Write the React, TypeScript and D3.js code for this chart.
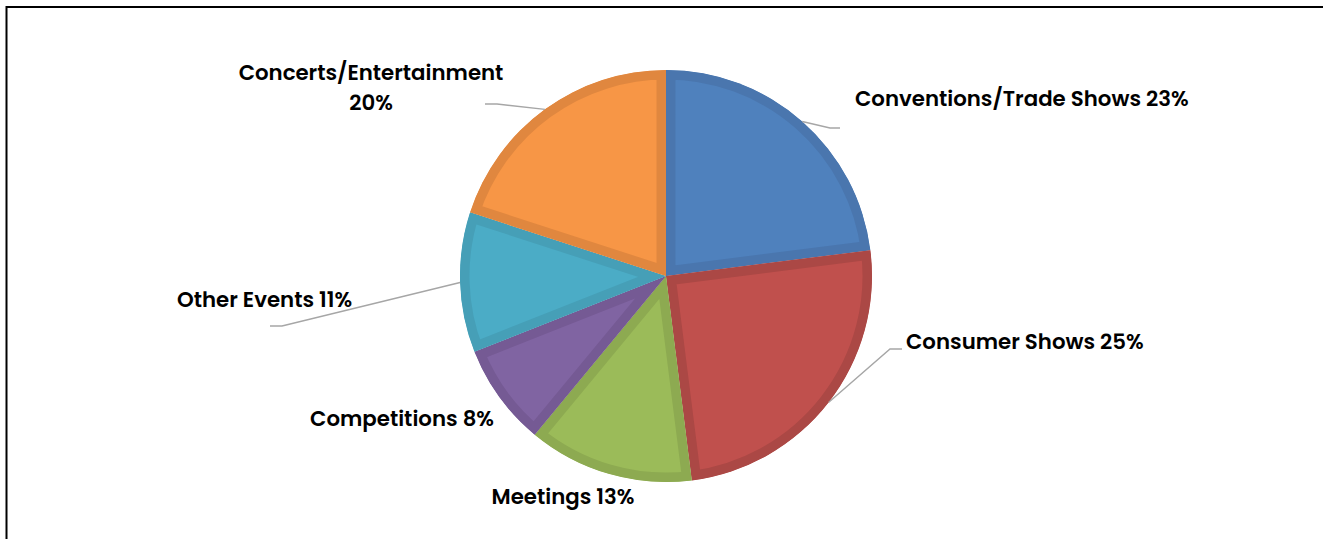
import React from "react";
import * as d3 from "d3";

const categories = [
  "Conventions/Trade Shows",
  "Consumer Shows",
  "Meetings",
  "Competitions",
  "Other Events",
  "Concerts/Entertainment",
];
const values = [23, 25, 13, 8, 11, 20];

const fillColors = ["#4F81BD", "#C0504D", "#9BBB59", "#8064A2", "#4BACC6", "#F79646"];
const borderColors = ["#4A76AE", "#AB4845", "#8DAA51", "#755A94", "#469FB7", "#E0873F"];

const W = 1323;
const H = 539;
const CX = 666;
const CY = 276;
const R = 206;

// label layout relative to pie centre: text anchor, lines, leader elbows
type LabelLayout = {
  tx: number;
  ty: number;
  anchor: "start" | "middle" | "end";
  lines: number;
  leader: [number, number][] | null;
};
const labelLayout: LabelLayout[] = [
  { tx: 189, ty: -170, anchor: "start", lines: 1, leader: [[164, -148], [174, -148]] },
  { tx: 240, ty: 73, anchor: "start", lines: 1, leader: [[224, 73], [236, 73]] },
  { tx: -103, ty: 228, anchor: "middle", lines: 1, leader: null },
  { tx: -172, ty: 150, anchor: "end", lines: 1, leader: null },
  { tx: -489, ty: 31, anchor: "start", lines: 1, leader: [[-384, 50], [-396, 50]] },
  { tx: -295, ty: -196, anchor: "middle", lines: 2, leader: [[-169, -172], [-181, -172]] },
];

export default function App() {
  const pie = d3
    .pie<number>()
    .sort(null)
    .value((d) => d)
    .startAngle(0)
    .endAngle(2 * Math.PI);
  const arcs = pie(values);
  const arc = d3.arc<d3.PieArcDatum<number>>().innerRadius(0).outerRadius(R);
  const total = d3.sum(values);

  const textProps = {
    fontSize: 21.3,
    fontWeight: 600,
    fill: "#000",
  };

  return (
    <svg
      width={W}
      height={H}
      style={{ position: "absolute", left: 0, top: 0, background: "#fff" }}
      fontFamily="Poppins, 'Open Sans', sans-serif"
    >
      <rect x={6.5} y={7} width={1500} height={700} fill="#fff" stroke="#000" strokeWidth={2} />
      <defs>
        {arcs.map((a, i) => (
          <clipPath id={`clip${i}`} key={i}>
            <path d={arc(a) || ""} />
          </clipPath>
        ))}
      </defs>
      <g transform={`translate(${CX},${CY})`}>
        {arcs.map((a, i) => (
          <path
            key={i}
            d={arc(a) || ""}
            fill={fillColors[i]}
            stroke={borderColors[i]}
            strokeWidth={19}
            strokeLinejoin="miter"
            clipPath={`url(#clip${i})`}
          />
        ))}
        {arcs.map((a, i) => {
          const L = labelLayout[i];
          const mid = (a.startAngle + a.endAngle) / 2;
          const ex = R * Math.sin(mid);
          const ey = -R * Math.cos(mid);
          const pct = Math.round((values[i] / total) * 100) + "%";
          return (
            <g key={"l" + i}>
              {L.leader && (
                <polyline
                  points={[[ex, ey], ...L.leader].map((p) => p.join(",")).join(" ")}
                  fill="none"
                  stroke="#A6A6A6"
                  strokeWidth={1.4}
                />
              )}
              {L.lines === 1 ? (
                <text x={L.tx} y={L.ty} textAnchor={L.anchor} {...textProps}>
                  {categories[i] + " " + pct}
                </text>
              ) : (
                <g>
                  <text x={L.tx} y={L.ty} textAnchor={L.anchor} {...textProps}>
                    {categories[i]}
                  </text>
                  <text x={L.tx} y={L.ty + 30} textAnchor={L.anchor} {...textProps}>
                    {pct}
                  </text>
                </g>
              )}
            </g>
          );
        })}
      </g>
    </svg>
  );
}
